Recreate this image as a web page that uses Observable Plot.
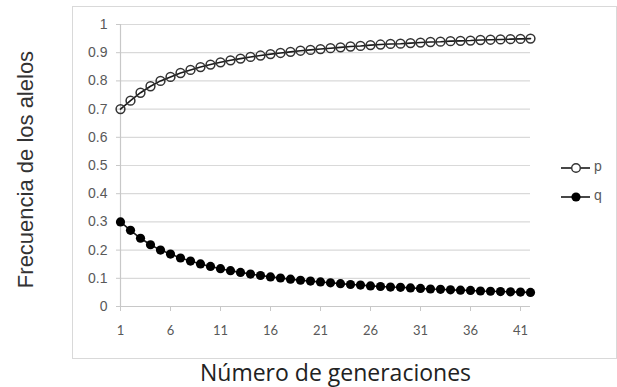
<!DOCTYPE html>
<html>
<head>
<meta charset="utf-8">
<script src="https://cdn.jsdelivr.net/npm/d3@7"></script>
<script src="https://cdn.jsdelivr.net/npm/@observablehq/plot@0.6"></script>
<style>
  html, body { margin: 0; padding: 0; background: #fff; }
  #wrap { position: relative; width: 617px; height: 387px; overflow: hidden; }
  #box { position: absolute; left: 72px; top: 6px; width: 543px; height: 351px; border: 1px solid #d9d9d9; pointer-events: none; }
  #legend { position: absolute; left: 0; top: 0; pointer-events: none; }
</style>
</head>
<body>
<div id="wrap"><div id="box"></div></div>
<script>
const generations = [1,2,3,4,5,6,7,8,9,10,11,12,13,14,15,16,17,18,19,20,21,22,23,24,25,26,27,28,29,30,31,32,33,34,35,36,37,38,39,40,41,42];
const pValues = [0.700,0.730,0.758,0.781,0.800,0.814,0.828,0.839,0.849,0.858,0.866,0.873,0.879,0.885,0.890,0.895,0.899,0.903,0.907,0.910,0.913,0.916,0.919,0.922,0.924,0.927,0.929,0.931,0.932,0.934,0.936,0.938,0.939,0.941,0.942,0.943,0.945,0.946,0.947,0.948,0.949,0.950];
const qValues = [0.300,0.270,0.242,0.219,0.200,0.186,0.172,0.161,0.151,0.142,0.134,0.127,0.121,0.115,0.110,0.105,0.101,0.097,0.093,0.090,0.087,0.084,0.081,0.078,0.076,0.073,0.071,0.069,0.068,0.066,0.064,0.062,0.061,0.059,0.058,0.057,0.055,0.054,0.053,0.052,0.051,0.050];
const seriesNames = ["p", "q"];
const xTicks = [1,6,11,16,21,26,31,36,41];
const yTicks = [0,0.1,0.2,0.3,0.4,0.5,0.6,0.7,0.8,0.9,1];
const yTitle = "Frecuencia de los alelos";
const xTitle = "Número de generaciones";

const data = generations.flatMap((g, i) => [
  {gen: g, value: pValues[i], allele: seriesNames[0]},
  {gen: g, value: qValues[i], allele: seriesNames[1]}
]);
const pData = data.filter(d => d.allele === "p");
const qData = data.filter(d => d.allele === "q");

const chart = Plot.plot({
  width: 617,
  height: 387,
  marginLeft: 120,
  marginRight: 87,
  marginTop: 24,
  marginBottom: 81,
  x: {domain: [1, 42]},
  y: {domain: [0, 1]},
  style: {fontFamily: "'Liberation Sans', Arial, sans-serif", fontSize: "14px", color: "#595959", background: "transparent"},
  marks: [
    Plot.gridY(yTicks, {stroke: "#d9d9d9", strokeOpacity: 1, strokeWidth: 1.2}),
    Plot.ruleX([1], {stroke: "#c8c8c8", strokeWidth: 1.2}),
    Plot.ruleY([0], {stroke: "#c8c8c8", strokeWidth: 1.2}),
    Plot.axisY(yTicks, {tickSize: 4, tickPadding: 9, stroke: "#c8c8c8", fill: "#595959", label: null, fontSize: 14, tickFormat: d => String(+d.toFixed(1))}),
    Plot.axisX(xTicks, {tickSize: 5, tickPadding: 14, stroke: "#c8c8c8", fill: "#595959", label: null, fontFamily: "Lato, 'Open Sans', sans-serif", fontSize: 13}),
    Plot.lineY(data, {x: "gen", y: "value", z: "allele", stroke: "#1a1a1a", strokeWidth: 1.6}),
    Plot.dot(pData, {x: "gen", y: "value", r: 4.4, stroke: "#333", strokeWidth: 1.5, fill: "none"}),
    Plot.dot(qData, {x: "gen", y: "value", r: 4.6, fill: "#000", stroke: "none"}),
    Plot.text([yTitle], {frameAnchor: "left", textAnchor: "middle", dx: -95, dy: 4, rotate: -90, fontSize: 22, fill: "#333", fontFamily: "'Liberation Sans', Arial, sans-serif"}),
    Plot.text([xTitle], {frameAnchor: "bottom", dx: 10, dy: 67, lineAnchor: "middle", fontSize: 23, fill: "#222", fontFamily: "'Open Sans', sans-serif"})
  ]
});
document.getElementById("wrap").appendChild(chart);

// Legend
const leg = d3.select("#wrap").append("svg")
  .attr("id", "legend").attr("width", 617).attr("height", 387);
const legRows = [{name: seriesNames[0], y: 168, filled: false}, {name: seriesNames[1], y: 197, filled: true}];
legRows.forEach(r => {
  leg.append("line").attr("x1", 561).attr("x2", 590).attr("y1", r.y).attr("y2", r.y)
    .attr("stroke", "#1a1a1a").attr("stroke-width", 1.6);
  leg.append("circle").attr("cx", 576).attr("cy", r.y).attr("r", r.filled ? 4.6 : 4.3)
    .attr("fill", r.filled ? "#000" : "#fff").attr("stroke", r.filled ? "none" : "#333").attr("stroke-width", 1.4);
  leg.append("text").attr("x", 594).attr("y", r.y).attr("dy", "0.2em")
    .attr("font-family", "'Liberation Sans', Arial, sans-serif").attr("font-size", 14)
    .attr("fill", "#595959").text(r.name);
});
</script>
</body>
</html>
